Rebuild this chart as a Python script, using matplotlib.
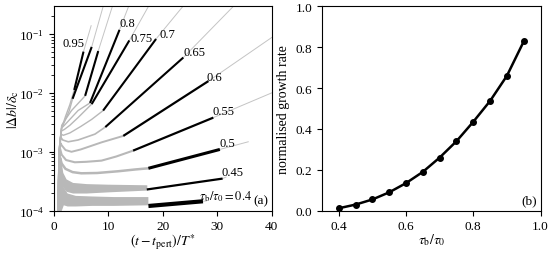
import numpy as np
import matplotlib
matplotlib.use("Agg")
import matplotlib.pyplot as plt

plt.rcParams['font.family'] = ['Liberation Serif', 'DejaVu Serif']
plt.rcParams['mathtext.fontset'] = 'stix'
plt.rcParams['font.size'] = 9.5
plt.rcParams['axes.labelsize'] = 10

# panel (b): normalised growth rate vs tau_b/tau_0
ratio = [0.4, 0.45, 0.5, 0.55, 0.6, 0.65, 0.7, 0.75, 0.8, 0.85, 0.9, 0.95]
growth = [0.012, 0.03, 0.055, 0.09, 0.135, 0.19, 0.26, 0.34, 0.435, 0.537, 0.66, 0.828]

# panel (a): values are log10(|db|/dc)
# oscillating (band) part of the two lowest curves
band04_t = [0.75, 0.9, 1.1, 1.4, 1.8, 2.5, 4, 7, 11, 17.3]
band04_hi = [-4.5, -3.4, -3.1, -3.4, -3.6, -3.7, -3.74, -3.75, -3.76, -3.76]
band04_lo = [-4.5, -4.5, -4.5, -4.0, -3.9, -3.92, -3.92, -3.91, -3.91, -3.9]
band045_t = [0.8, 1.0, 1.3, 1.7, 2.3, 3.5, 6, 10, 17.1]
band045_hi = [-4.5, -3.3, -3.1, -3.35, -3.46, -3.52, -3.54, -3.55, -3.56]
band045_lo = [-4.5, -4.0, -3.45, -3.6, -3.67, -3.7, -3.7, -3.68, -3.65]

# grey curves before the fit window (ratios 0.5 ... 0.95)
pre_t = [
    [0.8, 1.0, 1.2, 1.5, 2.2, 3.5, 5.1, 8, 11.9, 15, 17.4],
    [0.8, 1.0, 1.2, 1.5, 2.3, 3.9, 6, 8.8, 11.5, 14.6],
    [0.8, 1.0, 1.25, 1.5, 2.2, 3.3, 5, 8.8, 12.8],
    [0.8, 1.0, 1.3, 1.7, 2.7, 4.5, 7.6, 9.5],
    [0.8, 1.0, 1.35, 1.8, 3, 5, 7, 9.1],
    [0.8, 1.0, 1.4, 2, 3, 4.5, 7.0],
    [0.8, 1.0, 1.45, 2, 3, 4.5, 6.7],
    [0.8, 1.0, 1.5, 2.2, 3.3, 4.6, 5.8],
    [0.8, 1.0, 1.5, 2.2, 2.9, 3.5],
    [0.8, 1.0, 1.5, 2.2, 3.0, 3.8],
]
pre_y = [
    [-4.5, -3.5, -3.1, -3.2, -3.29, -3.345, -3.365, -3.36, -3.33, -3.3, -3.28],
    [-4.5, -3.4, -2.95, -3.05, -3.14, -3.178, -3.17, -3.15, -3.08, -2.98],
    [-4.5, -3.3, -2.85, -2.89, -2.97, -3.0, -2.96, -2.84, -2.73],
    [-4.5, -3.2, -2.75, -2.8, -2.83, -2.8, -2.7, -2.58],
    [-4.5, -3.1, -2.7, -2.72, -2.68, -2.57, -2.45, -2.3],
    [-4.5, -3.1, -2.65, -2.62, -2.55, -2.42, -2.19],
    [-4.5, -3.0, -2.6, -2.55, -2.45, -2.3, -2.17],
    [-4.5, -3.0, -2.55, -2.45, -2.3, -2.17, -2.05],
    [-4.5, -3.0, -2.6, -2.45, -2.3, -2.1],
    [-4.5, -3.0, -2.6, -2.4, -2.2, -1.95],
]

# black fit windows and grey continuation, one entry per ratio
fit_t0 = [17.4, 17.1, 17.4, 14.6, 12.8, 9.5, 9.1, 7.0, 6.7, 5.8, 3.5, 3.8]
fit_y0 = [-3.92, -3.64, -3.28, -2.98, -2.73, -2.58, -2.3, -2.19, -2.17, -2.05, -2.1, -1.95]
fit_t1 = [27.4, 31.0, 30.5, 29.3, 28.4, 23.8, 18.8, 13.9, 12.1, 8.2, 7.0, 5.5]
fit_y1 = [-3.84, -3.455, -2.96, -2.42, -1.8, -1.4, -1.085, -1.11, -0.93, -1.29, -1.22, -1.3]
post_t = [28.0, 31.6, 35.7, 40, 40, 33.3, 24.0, 17.6, 13.9, 10.9, 9.2, 6.9]
post_y = [-3.835, -3.43, -2.83, -2.0, -1.06, -0.5, -0.5, -0.5, -0.5, -0.5, -0.5, -0.86]
fit_lw = [3.0, 1.6, 2.2, 1.6, 1.6, 1.5, 1.5, 1.5, 1.5, 1.5, 1.5, 1.5]
pre_lw = [1.8, 1.5, 1.4, 1.2, 1.0, 1.0, 1.0, 1.0, 1.0, 1.0]

lab_text = ['$\\tau_{\\rm b}/\\tau_0 = 0.4$', '0.45', '0.5', '0.55', '0.6', '0.65', '0.7', '0.75', '0.8', '0.95']
lab_t = [31.5, 32.75, 31.8, 31.2, 29.5, 25.8, 20.8, 16.1, 13.5, 3.67]
lab_y = [-3.75, -3.335, -2.85, -2.316, -1.73, -1.314, -1.008, -1.068, -0.813, -1.16]

grey = '#b8b8b8'
fig = plt.figure(figsize=(5.51, 2.55), dpi=100)
ax1 = fig.add_axes([0.0971, 0.1698, 0.396, 0.8016])
ax2 = fig.add_axes([0.5844, 0.1698, 0.3966, 0.8016])

# panel (a)
ax1.fill_between(band04_t, 10**np.array(band04_lo), 10**np.array(band04_hi), color=grey, lw=0)
ax1.fill_between(band045_t, 10**np.array(band045_lo), 10**np.array(band045_hi), color=grey, lw=0)
for i in range(len(pre_t)):
    ax1.plot(pre_t[i], 10**np.array(pre_y[i]), color=grey, lw=pre_lw[i])
for i in range(len(ratio)):
    ax1.plot([fit_t1[i], post_t[i]], [10**fit_y1[i], 10**post_y[i]], color='#c4c4c4', lw=0.7)
    ax1.plot([fit_t0[i], fit_t1[i]], [10**fit_y0[i], 10**fit_y1[i]], color='k', lw=fit_lw[i],
             solid_capstyle='butt')
for i in range(len(lab_text)):
    ax1.text(lab_t[i], 10**lab_y[i], lab_text[i], ha='center', va='center', fontsize=9)
ax1.text(0.985, 0.02, '(a)', transform=ax1.transAxes, ha='right', va='bottom', fontsize=9.5)

ax1.set_yscale('log')
ax1.set_xlim(0, 40)
ax1.set_ylim(1e-4, 0.295)
ax1.set_xticks([0, 10, 20, 30, 40])
ax1.set_xlabel('$(t-t_{\\rm pert})/T^{*}$')
ax1.set_ylabel('$|\\Delta b|/\\delta_{\\rm c}$')
ax1.xaxis.set_label_coords(0.5, -0.1)
ax1.yaxis.set_label_coords(-0.15, 0.5)

# panel (b)
ax2.plot(ratio, growth, color='k', lw=1.8, marker='o', ms=4)
ax2.text(0.985, 0.02, '(b)', transform=ax2.transAxes, ha='right', va='bottom', fontsize=9.5)
ax2.set_xlim(0.35, 1.0)
ax2.set_ylim(0, 1.0)
ax2.set_xticks([0.4, 0.6, 0.8, 1.0])
ax2.set_yticks([0.0, 0.2, 0.4, 0.6, 0.8, 1.0])
ax2.set_xlabel('$\\tau_{\\rm b}/\\tau_0$')
ax2.set_ylabel('normalised growth rate')
ax2.xaxis.set_label_coords(0.5, -0.1)
ax2.yaxis.set_label_coords(-0.145, 0.5)

fig.savefig('out.png', dpi=100)
